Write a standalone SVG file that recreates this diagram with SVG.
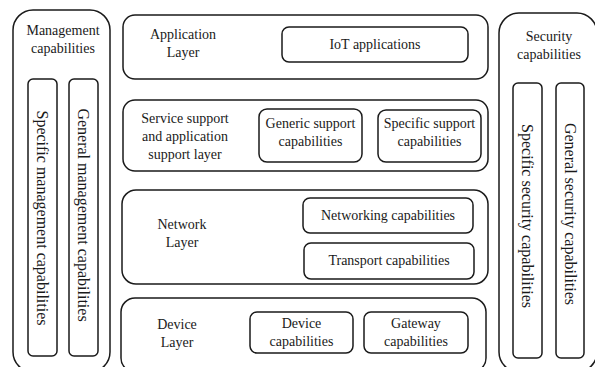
<svg xmlns="http://www.w3.org/2000/svg" width="595" height="367" viewBox="0 0 595 367">
<style>
.b{fill:#fff;stroke:#1a1a1a;stroke-width:1.5}
.t{font-family:"Liberation Serif","Times New Roman",serif;font-size:14px;fill:#1a1a1a;text-anchor:middle}
.v{font-family:"Liberation Serif","Times New Roman",serif;font-size:16px;fill:#1a1a1a;text-anchor:middle}
</style>
<rect width="595" height="367" fill="#fff"/>
<g id="management">
<rect class="b" x="13" y="10" width="97" height="362" rx="20"/>
<text class="t" x="63" y="35">Management</text>
<text class="t" x="63" y="53">capabilities</text>
</g>
<g id="specific-management">
<rect class="b" x="28" y="79" width="29" height="277" rx="5"/>
<text class="v" transform="translate(42.5,218) rotate(90)" dy="5.5">Specific management capabilities</text>
</g>
<g id="general-management">
<rect class="b" x="69" y="79" width="29" height="277" rx="5"/>
<text class="v" transform="translate(83.5,215) rotate(90)" dy="5.5">General management capabilities</text>
</g>
<g id="application-layer">
<rect class="b" x="123" y="15" width="365" height="64" rx="12"/>
<text class="t" x="183" y="39">Application</text>
<text class="t" x="183" y="57">Layer</text>
</g>
<g id="iot-applications">
<rect class="b" x="282" y="27" width="186" height="35" rx="7"/>
<text class="t" x="375" y="49">IoT applications</text>
</g>
<g id="service-support-layer">
<rect class="b" x="123" y="100" width="365" height="71" rx="12"/>
<text class="t" x="185" y="123">Service support</text>
<text class="t" x="185" y="141">and application</text>
<text class="t" x="185" y="159">support layer</text>
</g>
<g id="generic-support">
<rect class="b" x="259" y="109" width="103" height="53" rx="8"/>
<text class="t" x="310.5" y="128">Generic support</text>
<text class="t" x="310.5" y="146">capabilities</text>
</g>
<g id="specific-support">
<rect class="b" x="378" y="110" width="103" height="52" rx="8"/>
<text class="t" x="429.5" y="128">Specific support</text>
<text class="t" x="429.5" y="146">capabilities</text>
</g>
<g id="network-layer">
<rect class="b" x="122" y="190" width="366" height="94" rx="14"/>
<text class="t" x="182" y="229">Network</text>
<text class="t" x="182" y="247">Layer</text>
</g>
<g id="networking-capabilities">
<rect class="b" x="303" y="198" width="170" height="35" rx="7"/>
<text class="t" x="388" y="220">Networking capabilities</text>
</g>
<g id="transport-capabilities">
<rect class="b" x="304" y="243" width="170" height="36" rx="7"/>
<text class="t" x="389" y="265">Transport capabilities</text>
</g>
<g id="device-layer">
<rect class="b" x="121" y="298" width="365" height="74" rx="14"/>
<text class="t" x="177" y="329">Device</text>
<text class="t" x="177" y="347">Layer</text>
</g>
<g id="device-capabilities">
<rect class="b" x="250" y="312" width="103" height="41" rx="7"/>
<text class="t" x="301.5" y="328">Device</text>
<text class="t" x="301.5" y="346">capabilities</text>
</g>
<g id="gateway-capabilities">
<rect class="b" x="364" y="312" width="104" height="41" rx="7"/>
<text class="t" x="416" y="328">Gateway</text>
<text class="t" x="416" y="346">capabilities</text>
</g>
<g id="security">
<rect class="b" x="499" y="13" width="98" height="359" rx="20"/>
<text class="t" x="549" y="41">Security</text>
<text class="t" x="549" y="59">capabilities</text>
</g>
<g id="specific-security">
<rect class="b" x="513" y="83" width="29" height="275" rx="5"/>
<text class="v" transform="translate(527.5,216) rotate(90)" dy="5.5">Specific security capabilities</text>
</g>
<g id="general-security">
<rect class="b" x="556" y="83" width="28" height="275" rx="5"/>
<text class="v" transform="translate(570,214) rotate(90)" dy="5.5">General security capabilities</text>
</g>
<g id="connectors"/>
</svg>
